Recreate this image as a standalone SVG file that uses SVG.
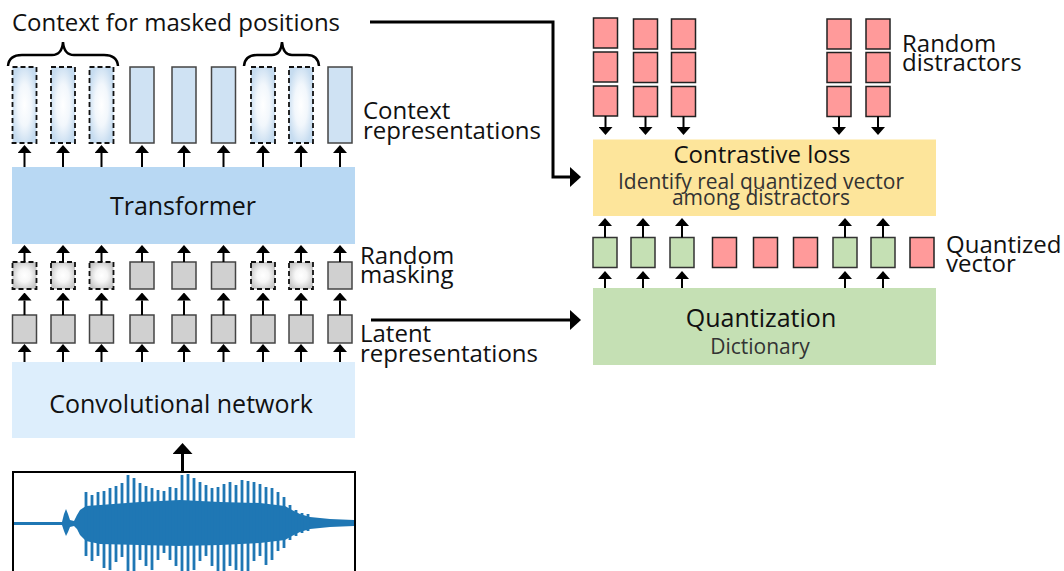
<svg xmlns="http://www.w3.org/2000/svg" width="1064" height="571" viewBox="0 0 1064 571">
<style>
text{font-family:"Open Sans","DejaVu Sans",sans-serif;fill:#111}
.t24{font-size:24px}
.lbl{font-size:24px}
.box{font-size:25px}
.sub{font-size:21px;fill:#333}
.ctx{fill:#cfe2f3;stroke:#444;stroke-width:1.5}
.ctxm{fill:url(#gctx);stroke:#111;stroke-width:1.8;stroke-dasharray:5,3}
.lat{fill:#d0d0d0;stroke:#444;stroke-width:1.5}
.latm{fill:url(#glat);stroke:#111;stroke-width:1.8;stroke-dasharray:5,3}
.red{fill:#ff9a9a;stroke:#222;stroke-width:1.5}
.grn{fill:#c5e0b4;stroke:#333;stroke-width:1.5}
.sa{stroke:#000;stroke-width:2;fill:none;marker-end:url(#ah)}
.ba{stroke:#000;stroke-width:3;fill:none;marker-end:url(#bh)}
.brace{stroke:#000;stroke-width:2.5;fill:none}
</style>
<defs>
<radialGradient id="gctx" cx="50%" cy="50%" r="55%">
<stop offset="0" stop-color="#ffffff"/>
<stop offset="0.5" stop-color="#f2f7fc"/>
<stop offset="1" stop-color="#c6dcf0"/>
</radialGradient>
<radialGradient id="glat" cx="50%" cy="50%" r="55%">
<stop offset="0" stop-color="#ffffff"/>
<stop offset="0.45" stop-color="#f6f6f6"/>
<stop offset="1" stop-color="#c8c8c8"/>
</radialGradient>
<marker id="ah" viewBox="0 0 8 14" refX="0" refY="7" markerWidth="8" markerHeight="14" markerUnits="userSpaceOnUse" orient="auto"><path d="M0,0 L8,7 L0,14 z" fill="#000"/></marker>
<marker id="bh" viewBox="0 0 11 20" refX="0" refY="10" markerWidth="11" markerHeight="20" markerUnits="userSpaceOnUse" orient="auto"><path d="M0,0 L11,10 L0,20 z" fill="#000"/></marker>
<clipPath id="wclip"><rect x="14" y="473" width="340" height="100"/></clipPath>
</defs>

<g id="title">
<text class="t24" x="12" y="31">Context for masked positions</text>
<path class="brace" d="M8,66 Q9,55 22,55 L52,55 Q62,55 63,42 Q64,55 74,55 L104,55 Q117,55 118,66"/>
<path class="brace" d="M244,66 Q245,55 257,55 L272,55 Q281,55 282,42 Q283,55 292,55 L307,55 Q318,55 319,66"/>
</g>

<g id="context-representations">
<rect class="ctxm" x="12.5" y="67" width="24" height="76"/>
<rect class="ctxm" x="51" y="67" width="24" height="76"/>
<rect class="ctxm" x="89.5" y="67" width="24" height="76"/>
<rect class="ctx" x="130" y="67" width="24" height="76"/>
<rect class="ctx" x="172" y="67" width="24" height="76"/>
<rect class="ctx" x="211.5" y="67" width="24" height="76"/>
<rect class="ctxm" x="251" y="67" width="24" height="76"/>
<rect class="ctxm" x="289" y="67" width="24" height="76"/>
<rect class="ctx" x="328" y="67" width="24" height="76"/>
<text class="lbl" x="363" y="119">Context</text>
<text class="lbl" x="363" y="139">representations</text>
</g>

<g id="transformer">
<rect x="12" y="167" width="343" height="77" fill="#b8d8f3"/>
<text class="box" x="183" y="215" text-anchor="middle">Transformer</text>
</g>

<g id="random-masking">
<rect class="latm" x="12.5" y="262" width="24" height="27"/>
<rect class="latm" x="51" y="262" width="24" height="27"/>
<rect class="latm" x="89.5" y="262" width="24" height="27"/>
<rect class="lat" x="130" y="262" width="24" height="27"/>
<rect class="lat" x="172" y="262" width="24" height="27"/>
<rect class="lat" x="211.5" y="262" width="24" height="27"/>
<rect class="latm" x="251" y="262" width="24" height="27"/>
<rect class="latm" x="289" y="262" width="24" height="27"/>
<rect class="lat" x="328" y="262" width="24" height="27"/>
<text class="lbl" x="360" y="264">Random</text>
<text class="lbl" x="360" y="283">masking</text>
</g>

<g id="latent-representations">
<rect class="lat" x="12.5" y="315" width="24" height="28"/>
<rect class="lat" x="51" y="315" width="24" height="28"/>
<rect class="lat" x="89.5" y="315" width="24" height="28"/>
<rect class="lat" x="130" y="315" width="24" height="28"/>
<rect class="lat" x="172" y="315" width="24" height="28"/>
<rect class="lat" x="211.5" y="315" width="24" height="28"/>
<rect class="lat" x="251" y="315" width="24" height="28"/>
<rect class="lat" x="289" y="315" width="24" height="28"/>
<rect class="lat" x="328" y="315" width="24" height="28"/>
<text class="lbl" x="360" y="342">Latent</text>
<text class="lbl" x="360" y="362">representations</text>
</g>

<g id="convolutional-network">
<rect x="12" y="362" width="343" height="76" fill="#ddeefc"/>
<text class="box" x="181" y="413" text-anchor="middle">Convolutional network</text>
</g>

<g id="waveform">
<rect x="13" y="472" width="342" height="110" fill="#fff" stroke="#000" stroke-width="2"/>
<g clip-path="url(#wclip)" fill="#1f77b4" stroke="#1f77b4">
<path stroke="none" d="M14,522 L62,522 L64,514 L66,509 L68,514 L70,520 L74,521 L77,515 L80,510 L86,506 L100,505 L140,502 L180,500 L220,502 L260,503 L285,506 L292,510 L300,514 L310,517 L330,519 L355,520 L355,526 L330,527 L310,529 L300,532 L292,536 L285,540 L260,543 L220,545 L180,546 L140,545 L100,544 L86,541 L80,535 L77,529 L74,526 L70,527 L68,532 L66,536 L64,531 L62,525 L14,525 Z"/>
<path fill="none" stroke-width="2.8" d="M86,492V556 M92,495V561 M98,492V556 M104,491V568 M110,488V570 M116,486V562 M122,483V557 M128,475V572 M134,478V575 M140,483V560 M146,486V566 M152,488V570 M158,490V560 M164,491V553 M170,487V560 M176,488V566 M182,475V575 M188,474V578 M194,478V570 M200,482V561 M206,485V556 M212,488V566 M218,487V575 M224,484V575 M230,482V566 M236,485V570 M242,480V575 M248,481V575 M254,482V561 M260,484V556 M266,487V565 M272,488V560 M278,492V551 M284,497V548 M290,505V540 M296,510V536 M302,513V533 M308,514V531"/>
</g>
</g>

<g id="random-distractors">
<rect class="red" x="593.5" y="18" width="24" height="30"/>
<rect class="red" x="593.5" y="52" width="24" height="30"/>
<rect class="red" x="593.5" y="86" width="24" height="30"/>
<rect class="red" x="633.5" y="19" width="24" height="30"/>
<rect class="red" x="633.5" y="52.5" width="24" height="30"/>
<rect class="red" x="633.5" y="86.5" width="24" height="30"/>
<rect class="red" x="671.5" y="19" width="24" height="30"/>
<rect class="red" x="671.5" y="52.5" width="24" height="30"/>
<rect class="red" x="671.5" y="86.5" width="24" height="30"/>
<rect class="red" x="827" y="19" width="24" height="30"/>
<rect class="red" x="827" y="52.5" width="24" height="30"/>
<rect class="red" x="827" y="86.5" width="24" height="30"/>
<rect class="red" x="866" y="19" width="24" height="30"/>
<rect class="red" x="866" y="52.5" width="24" height="30"/>
<rect class="red" x="866" y="86.5" width="24" height="30"/>
<text class="lbl" x="902" y="52">Random</text>
<text class="lbl" x="902" y="71">distractors</text>
</g>

<g id="contrastive-loss">
<rect x="593" y="139.5" width="343" height="76.5" fill="#fde59b"/>
<text class="box" x="762" y="163" text-anchor="middle" style="font-size:24px">Contrastive loss</text>
<text class="sub" x="761" y="189" text-anchor="middle">Identify real quantized vector</text>
<text class="sub" x="761" y="205" text-anchor="middle">among distractors</text>
</g>

<g id="quantized-vector">
<rect class="grn" x="593" y="237.5" width="24" height="30"/>
<rect class="grn" x="631" y="237.5" width="24" height="30"/>
<rect class="grn" x="670" y="237.5" width="24" height="30"/>
<rect class="red" x="712.5" y="237.5" width="24" height="30"/>
<rect class="red" x="753.5" y="237.5" width="24" height="30"/>
<rect class="red" x="793.5" y="237.5" width="24" height="30"/>
<rect class="grn" x="833" y="237.5" width="24" height="30"/>
<rect class="grn" x="871" y="237.5" width="24" height="30"/>
<rect class="red" x="910" y="237.5" width="24" height="30"/>
<text class="lbl" x="946" y="253">Quantized</text>
<text class="lbl" x="946" y="272">vector</text>
</g>

<g id="quantization">
<rect x="593" y="288" width="343" height="77" fill="#c5e0b4"/>
<text class="box" x="761" y="327" text-anchor="middle">Quantization</text>
<text class="sub" x="760" y="354" text-anchor="middle">Dictionary</text>
</g>

<g id="connectors">
<line class="sa" x1="24.5" y1="167" x2="24.5" y2="153"/>
<line class="sa" x1="63" y1="167" x2="63" y2="153"/>
<line class="sa" x1="101.5" y1="167" x2="101.5" y2="153"/>
<line class="sa" x1="142" y1="167" x2="142" y2="153"/>
<line class="sa" x1="184" y1="167" x2="184" y2="153"/>
<line class="sa" x1="223.5" y1="167" x2="223.5" y2="153"/>
<line class="sa" x1="263" y1="167" x2="263" y2="153"/>
<line class="sa" x1="301" y1="167" x2="301" y2="153"/>
<line class="sa" x1="340" y1="167" x2="340" y2="153"/>

<line class="sa" x1="24.5" y1="262" x2="24.5" y2="253"/>
<line class="sa" x1="63" y1="262" x2="63" y2="253"/>
<line class="sa" x1="101.5" y1="262" x2="101.5" y2="253"/>
<line class="sa" x1="142" y1="262" x2="142" y2="253"/>
<line class="sa" x1="184" y1="262" x2="184" y2="253"/>
<line class="sa" x1="223.5" y1="262" x2="223.5" y2="253"/>
<line class="sa" x1="263" y1="262" x2="263" y2="253"/>
<line class="sa" x1="301" y1="262" x2="301" y2="253"/>
<line class="sa" x1="340" y1="262" x2="340" y2="253"/>

<line class="sa" x1="24.5" y1="315" x2="24.5" y2="300.5"/>
<line class="sa" x1="63" y1="315" x2="63" y2="300.5"/>
<line class="sa" x1="101.5" y1="315" x2="101.5" y2="300.5"/>
<line class="sa" x1="142" y1="315" x2="142" y2="300.5"/>
<line class="sa" x1="184" y1="315" x2="184" y2="300.5"/>
<line class="sa" x1="223.5" y1="315" x2="223.5" y2="300.5"/>
<line class="sa" x1="263" y1="315" x2="263" y2="300.5"/>
<line class="sa" x1="301" y1="315" x2="301" y2="300.5"/>
<line class="sa" x1="340" y1="315" x2="340" y2="300.5"/>

<line class="sa" x1="24.5" y1="362" x2="24.5" y2="352"/>
<line class="sa" x1="63" y1="362" x2="63" y2="352"/>
<line class="sa" x1="101.5" y1="362" x2="101.5" y2="352"/>
<line class="sa" x1="142" y1="362" x2="142" y2="352"/>
<line class="sa" x1="184" y1="362" x2="184" y2="352"/>
<line class="sa" x1="223.5" y1="362" x2="223.5" y2="352"/>
<line class="sa" x1="263" y1="362" x2="263" y2="352"/>
<line class="sa" x1="301" y1="362" x2="301" y2="352"/>
<line class="sa" x1="340" y1="362" x2="340" y2="352"/>

<line class="sa" x1="605.5" y1="116" x2="605.5" y2="127"/>
<line class="sa" x1="645.5" y1="116.5" x2="645.5" y2="127"/>
<line class="sa" x1="683.5" y1="116.5" x2="683.5" y2="127"/>
<line class="sa" x1="839" y1="116.5" x2="839" y2="127"/>
<line class="sa" x1="878" y1="116.5" x2="878" y2="127"/>

<line class="sa" x1="605" y1="237.5" x2="605" y2="226"/>
<line class="sa" x1="643" y1="237.5" x2="643" y2="226"/>
<line class="sa" x1="682" y1="237.5" x2="682" y2="226"/>
<line class="sa" x1="845" y1="237.5" x2="845" y2="226"/>
<line class="sa" x1="883" y1="237.5" x2="883" y2="226"/>

<line class="sa" x1="605" y1="288" x2="605" y2="279"/>
<line class="sa" x1="643" y1="288" x2="643" y2="279"/>
<line class="sa" x1="682" y1="288" x2="682" y2="279"/>
<line class="sa" x1="845" y1="288" x2="845" y2="279"/>
<line class="sa" x1="883" y1="288" x2="883" y2="279"/>

<line class="ba" x1="182.5" y1="472" x2="182.5" y2="454"/>
<path class="ba" d="M370,22 H553 V177 H570"/>
<line class="ba" x1="371" y1="320" x2="570" y2="320"/>
</g>
</svg>
